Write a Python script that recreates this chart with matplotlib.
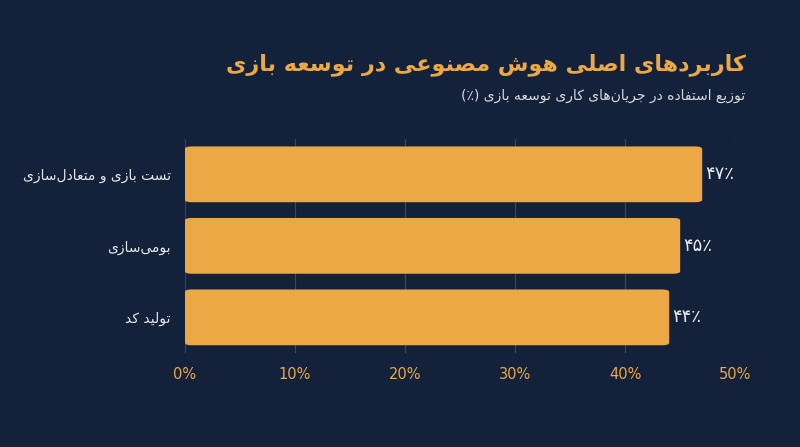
import matplotlib
matplotlib.use("Agg")
import matplotlib.pyplot as plt
from matplotlib.patches import FancyBboxPatch

categories = ["تست بازی و متعادل‌سازی", "بومی‌سازی", "تولید کد"]
values = [47, 45, 44]
value_labels = ["۴۷٪", "۴۵٪", "۴۴٪"]
xticks = [0, 10, 20, 30, 40, 50]
xtick_labels = ["0%", "10%", "20%", "30%", "40%", "50%"]
title = "کاربردهای اصلی هوش مصنوعی در توسعه بازی"
subtitle = "توزیع استفاده در جریان‌های کاری توسعه بازی (٪)"

FORMS = {  # isolated, final, initial, medial
    'ا': (0xFE8D, 0xFE8E, None, None), 'د': (0xFEA9, 0xFEAA, None, None),
    'ر': (0xFEAD, 0xFEAE, None, None), 'ز': (0xFEAF, 0xFEB0, None, None),
    'و': (0xFEED, 0xFEEE, None, None),
    'ب': (0xFE8F, 0xFE90, 0xFE91, 0xFE92), 'ت': (0xFE95, 0xFE96, 0xFE97, 0xFE98),
    'ج': (0xFE9D, 0xFE9E, 0xFE9F, 0xFEA0), 'س': (0xFEB1, 0xFEB2, 0xFEB3, 0xFEB4),
    'ش': (0xFEB5, 0xFEB6, 0xFEB7, 0xFEB8), 'ص': (0xFEB9, 0xFEBA, 0xFEBB, 0xFEBC),
    'ع': (0xFEC9, 0xFECA, 0xFECB, 0xFECC), 'ف': (0xFED1, 0xFED2, 0xFED3, 0xFED4),
    'ق': (0xFED5, 0xFED6, 0xFED7, 0xFED8), 'ک': (0xFB8E, 0xFB8F, 0xFB90, 0xFB91),
    'ل': (0xFEDD, 0xFEDE, 0xFEDF, 0xFEE0), 'م': (0xFEE1, 0xFEE2, 0xFEE3, 0xFEE4),
    'ن': (0xFEE5, 0xFEE6, 0xFEE7, 0xFEE8), 'ه': (0xFEE9, 0xFEEA, 0xFEEB, 0xFEEC),
    'ی': (0xFBFC, 0xFBFD, 0xFBFE, 0xFBFF),
}
MIRROR = {'(': ')', ')': '('}

def shape(s):
    out = []
    n = len(s)
    for i, c in enumerate(s):
        if c == '\u200c':
            continue
        if c not in FORMS:
            out.append(MIRROR.get(c, c))
            continue
        prev = s[i - 1] if i > 0 else ''
        nxt = s[i + 1] if i + 1 < n else ''
        jp = prev in FORMS and FORMS[prev][2] is not None
        jn = FORMS[c][2] is not None and nxt in FORMS
        iso, fin, ini, med = FORMS[c]
        if jp and jn:
            cp = med
        elif jp:
            cp = fin
        elif jn:
            cp = ini
        else:
            cp = iso
        out.append(chr(cp))
    return ''.join(out[::-1])

BG = "#14213a"
GOLD = "#EBA844"
fam = ["DejaVu Sans", "Noto Sans"]

fig = plt.figure(figsize=(8, 4.47), dpi=100, facecolor=BG)
ax = fig.add_axes([0.231, 0.21, 0.688, 0.48], facecolor=BG)

ypos = list(range(len(categories)))
for y, v in zip(ypos, values):
    ax.add_patch(FancyBboxPatch((0, y - 0.39), v, 0.78,
                                boxstyle="round,pad=0,rounding_size=0.6",
                                mutation_aspect=0.06, fc=GOLD, ec="none", zorder=3))
for y, v, lab in zip(ypos, values, value_labels):
    ax.text(v + 0.3, y, lab, va="center", ha="left", color="#e8e8e8",
            fontsize=13, family=fam, zorder=4)

ax.set_xlim(0, 50)
ax.set_ylim(len(categories) - 0.5, -0.5)
ax.set_xticks(xticks)
ax.set_xticklabels(xtick_labels, color=GOLD, fontsize=10.5)
ax.set_yticks(ypos)
ax.set_yticklabels([shape(c) for c in categories], color="#e8e8e8",
                   fontsize=10, family=fam)
ax.tick_params(length=0, pad=10)
ax.grid(axis="x", color="#3a4760", lw=0.8, zorder=0)
for s in ax.spines.values():
    s.set_visible(False)

fig.text(0.932, 0.855, shape(title), ha="right", va="center", color=GOLD,
         fontsize=16, fontweight="bold", family=fam)
fig.text(0.932, 0.785, shape(subtitle), ha="right", va="center", color="#d8d8d8",
         fontsize=10, family=fam)

fig.savefig("out.png", dpi=100, facecolor=BG)
